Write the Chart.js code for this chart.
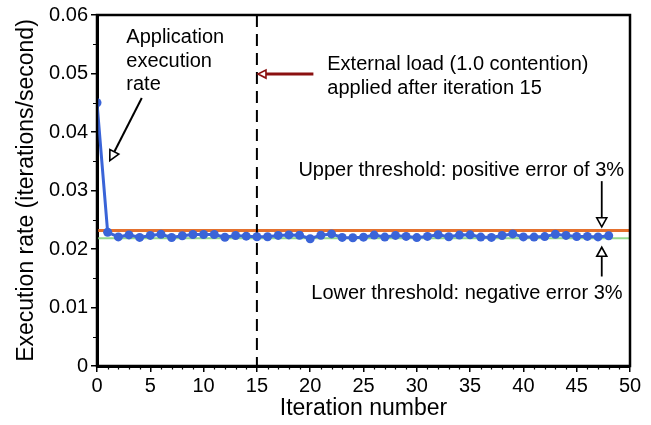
<!DOCTYPE html>
<html>
<head>
<meta charset="utf-8">
<script src="https://cdn.jsdelivr.net/npm/chart.js@4/dist/chart.umd.min.js"></script>
<style>
  html, body { margin: 0; padding: 0; background: #ffffff; }
  #wrap { width: 651px; height: 425px; }
  canvas { display: block; }
</style>
</head>
<body>
<div id="wrap"><canvas id="rateChart" width="651" height="425"></canvas></div>
<script>
// Iteration index and measured execution rate (iterations/second)
const iterations = [
  0, 1, 2, 3, 4, 5, 6, 7, 8, 9,
  10, 11, 12, 13, 14, 15, 16, 17, 18, 19,
  20, 21, 22, 23, 24, 25, 26, 27, 28, 29,
  30, 31, 32, 33, 34, 35, 36, 37, 38, 39,
  40, 41, 42, 43, 44, 45, 46, 47, 48
];
const executionRate = [
  0.0450, 0.02286, 0.02207, 0.02241, 0.02198, 0.02232, 0.02252, 0.02196, 0.02227, 0.02247,
  0.02247, 0.02247, 0.02201, 0.02230, 0.02220, 0.02209, 0.02209, 0.02232, 0.02241, 0.02235,
  0.02176, 0.02236, 0.02258, 0.02198, 0.02193, 0.02202, 0.02238, 0.02204, 0.02232, 0.02215,
  0.02195, 0.02215, 0.02244, 0.02209, 0.02238, 0.02242, 0.02204, 0.02198, 0.02230, 0.02258,
  0.02207, 0.02204, 0.02212, 0.02252, 0.02232, 0.02213, 0.02215, 0.02207, 0.02227
];

// Target rate and the +/- 3% error band around it
const targetRate = 0.0225;
const errorMargin = 0.03;
const upperThreshold = targetRate * (1 + errorMargin);
const lowerThreshold = targetRate * (1 - errorMargin);

// Iteration after which the external load is applied
const loadStartIteration = 15;

// Axis ticks
const xTickValues = [0, 5, 10, 15, 20, 25, 30, 35, 40, 45, 50];
const xMinorTickValues = [];
for (let v = 0; v <= 50; v += 1) if (v % 5 !== 0) xMinorTickValues.push(v);
const yTickValues = [0, 0.01, 0.02, 0.03, 0.04, 0.05, 0.06];
const yTickLabels = ['0', '0.01', '0.02', '0.03', '0.04', '0.05', '0.06'];
const yMinorTickValues = [0.005, 0.015, 0.025, 0.035, 0.045, 0.055];

const FONT = '"Liberation Sans", Arial, sans-serif';

// Text notes and arrows, placed in data coordinates
const notes = {
  appText: { x: 2.75, lines: [0.0561, 0.0521, 0.0482], text: ['Application', 'execution', 'rate'] },
  appArrow: { from: [4.2, 0.0458], to: [1.2, 0.0351] },
  loadText: { x: 21.6, lines: [0.0515, 0.0474], text: ['External load (1.0 contention)', 'applied after iteration 15'] },
  loadArrow: { from: [20.3, 0.0499], to: [15.1, 0.0499] },
  upperText: { x: 49.45, y: 0.0334, text: 'Upper threshold: positive error of 3%' },
  upperArrow: { from: [47.35, 0.0316], to: [47.35, 0.0238] },
  lowerArrow: { from: [47.35, 0.0153], to: [47.35, 0.0203] },
  lowerText: { x: 49.3, y: 0.0124, text: 'Lower threshold: negative error 3%' }
};

function arrow(ctx, x1, y1, x2, y2, color, width, headLen, headHalf) {
  const ang = Math.atan2(y2 - y1, x2 - x1);
  const bx = x2 - headLen * Math.cos(ang);
  const by = y2 - headLen * Math.sin(ang);
  ctx.save();
  ctx.strokeStyle = color;
  ctx.lineWidth = width;
  ctx.beginPath();
  ctx.moveTo(x1, y1);
  ctx.lineTo(bx, by);
  ctx.stroke();
  ctx.lineWidth = 1.6;
  ctx.lineJoin = 'miter';
  ctx.beginPath();
  ctx.moveTo(x2, y2);
  ctx.lineTo(bx + headHalf * Math.sin(ang), by - headHalf * Math.cos(ang));
  ctx.lineTo(bx - headHalf * Math.sin(ang), by + headHalf * Math.cos(ang));
  ctx.closePath();
  ctx.fillStyle = '#ffffff';
  ctx.fill();
  ctx.stroke();
  ctx.restore();
}

// Frame around the plot area and minor tick marks on both axes
const framePlugin = {
  id: 'frame',
  afterDraw(chart) {
    const { ctx, chartArea: a, scales: { x, y } } = chart;
    ctx.save();
    ctx.strokeStyle = '#000';
    ctx.lineWidth = 2.5;
    ctx.strokeRect(a.left, a.top, a.right - a.left, a.bottom - a.top);
    ctx.lineWidth = 1.2;
    ctx.beginPath();
    xMinorTickValues.forEach(v => {
      const px = Math.round(x.getPixelForValue(v)) + 0.5;
      ctx.moveTo(px, a.bottom);
      ctx.lineTo(px, a.bottom + 3.5);
    });
    yMinorTickValues.forEach(v => {
      const py = Math.round(y.getPixelForValue(v)) + 0.5;
      ctx.moveTo(a.left, py);
      ctx.lineTo(a.left - 4, py);
    });
    ctx.stroke();
    ctx.restore();
  }
};

const notesPlugin = {
  id: 'notes',
  afterDraw(chart) {
    const { ctx, scales: { x, y } } = chart;
    const P = (p) => [x.getPixelForValue(p[0]), y.getPixelForValue(p[1])];
    ctx.save();
    ctx.fillStyle = '#000';
    ctx.font = '20px ' + FONT;
    ctx.textBaseline = 'middle';

    ctx.textAlign = 'left';
    notes.appText.text.forEach((t, i) => {
      ctx.fillText(t, x.getPixelForValue(notes.appText.x), y.getPixelForValue(notes.appText.lines[i]));
    });
    notes.loadText.text.forEach((t, i) => {
      ctx.fillText(t, x.getPixelForValue(notes.loadText.x), y.getPixelForValue(notes.loadText.lines[i]));
    });
    ctx.textAlign = 'right';
    ctx.fillText(notes.upperText.text, x.getPixelForValue(notes.upperText.x), y.getPixelForValue(notes.upperText.y));
    ctx.fillText(notes.lowerText.text, x.getPixelForValue(notes.lowerText.x), y.getPixelForValue(notes.lowerText.y));

    let a = P(notes.appArrow.from), b = P(notes.appArrow.to);
    arrow(ctx, a[0], a[1], b[0], b[1], '#000', 2, 10, 5);
    a = P(notes.loadArrow.from); b = P(notes.loadArrow.to);
    arrow(ctx, a[0], a[1], b[0], b[1], '#8b1010', 3, 8, 4);
    a = P(notes.upperArrow.from); b = P(notes.upperArrow.to);
    arrow(ctx, a[0], a[1], b[0], b[1], '#000', 1.8, 9, 5);
    a = P(notes.lowerArrow.from); b = P(notes.lowerArrow.to);
    arrow(ctx, a[0], a[1], b[0], b[1], '#000', 1.8, 9, 5);
    ctx.restore();
  }
};

const xMin = xTickValues[0], xMax = xTickValues[xTickValues.length - 1];
const yMax = yTickValues[yTickValues.length - 1];

new Chart(document.getElementById('rateChart'), {
  type: 'line',
  data: {
    datasets: [
      {
        label: 'Execution rate',
        data: iterations.map((it, i) => ({ x: it, y: executionRate[i] })),
        borderColor: '#3a64d8',
        backgroundColor: '#3a64d8',
        borderWidth: 3,
        pointRadius: 4.5,
        pointBorderWidth: 0,
        tension: 0,
        order: 0
      },
      {
        label: 'Upper threshold',
        data: [{ x: xMin, y: upperThreshold }, { x: xMax, y: upperThreshold }],
        borderColor: '#e4702e',
        borderWidth: 3,
        pointRadius: 0,
        order: 2
      },
      {
        label: 'Lower threshold',
        data: [{ x: xMin, y: lowerThreshold }, { x: xMax, y: lowerThreshold }],
        borderColor: '#93d98c',
        borderWidth: 2,
        pointRadius: 0,
        order: 3
      },
      {
        label: 'Load start',
        data: [{ x: loadStartIteration, y: yMax }, { x: loadStartIteration, y: 0 }],
        borderColor: '#000',
        borderWidth: 2,
        borderDash: [12, 7],
        pointRadius: 0,
        order: 1
      }
    ]
  },
  options: {
    responsive: false,
    animation: false,
    devicePixelRatio: 1,
    layout: { padding: { left: 0, right: 21, top: 13, bottom: 0 } },
    plugins: { legend: { display: false }, tooltip: { enabled: false } },
    scales: {
      x: {
        type: 'linear',
        min: xMin,
        max: xMax,
        afterBuildTicks: (s) => { s.ticks = xTickValues.map(v => ({ value: v })); },
        afterFit: (s) => { s.height = 59; },
        ticks: {
          color: '#000',
          padding: 2,
          maxRotation: 0,
          autoSkip: false,
          font: { family: FONT, size: 20 }
        },
        grid: { drawOnChartArea: false, drawTicks: true, tickLength: 6, color: '#000', lineWidth: 1.5 },
        border: { display: true, color: '#000', width: 3 },
        title: {
          display: true,
          text: 'Iteration number',
          color: '#000',
          font: { family: FONT, size: 23 },
          padding: { top: 0, bottom: 3 }
        }
      },
      y: {
        type: 'linear',
        min: 0,
        max: yMax,
        afterBuildTicks: (s) => { s.ticks = yTickValues.map(v => ({ value: v })); },
        afterFit: (s) => { s.width = 97; },
        ticks: {
          color: '#000',
          padding: 3,
          autoSkip: false,
          font: { family: FONT, size: 20 },
          callback: (v) => {
            const i = yTickValues.findIndex(t => Math.abs(t - v) < 1e-9);
            return i >= 0 ? yTickLabels[i] : '';
          }
        },
        grid: { drawOnChartArea: false, drawTicks: true, tickLength: 6, color: '#000', lineWidth: 1.5 },
        border: { display: true, color: '#000', width: 3 },
        title: {
          display: true,
          text: 'Execution rate (iterations/second)',
          color: '#000',
          font: { family: FONT, size: 23 },
          padding: { top: 13, bottom: 0 }
        }
      }
    }
  },
  plugins: [framePlugin, notesPlugin]
});
</script>
</body>
</html>
